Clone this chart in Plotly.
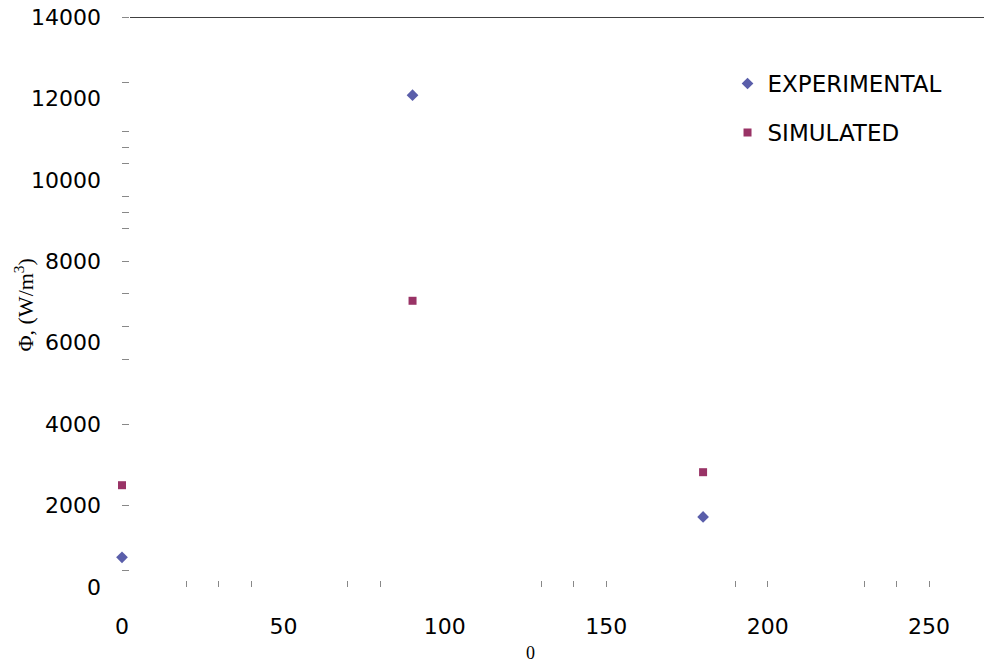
import plotly.graph_objects as go

# Data
angle_exp = [0, 90, 180]
phi_exp = [730, 12080, 1720]
angle_sim = [0, 90, 180, 270]
phi_sim = [2500, 7030, 2820, 510]

x_tickvals = [0, 50, 100, 150, 200, 250]
y_tickvals = [0, 2000, 4000, 6000, 8000, 10000, 12000, 14000]
y_ticktext = [str(v) for v in y_tickvals]
x_minor_ticks = [20, 30, 40, 70, 80, 130, 140, 150, 190, 200, 230, 240, 250]
y_minor_ticks = [400, 2000, 4000, 5600, 6400, 7200, 8000, 8800, 9200, 9600,
                 10400, 10800, 11200, 12400, 14000]

fig = go.Figure()
fig.add_trace(go.Scatter(
    x=angle_exp, y=phi_exp, mode="markers", name="EXPERIMENTAL",
    legendgroup="a",
    marker=dict(symbol="diamond", size=9, color="#5A5EAA"),
    cliponaxis=False))
fig.add_trace(go.Scatter(
    x=angle_sim, y=phi_sim, mode="markers", name="SIMULATED",
    legendgroup="b",
    marker=dict(symbol="square", size=8, color="#993366"),
    cliponaxis=False))

fig.add_shape(type="line", xref="paper", yref="y", x0=0.0092, x1=1,
              y0=14000, y1=14000, line=dict(color="black", width=1.5))

# axis titles as annotations (positioned like the reference)
fig.add_annotation(text="0", xref="paper", yref="paper", x=0.470, y=-0.1158,
                   xanchor="center", yanchor="middle", showarrow=False,
                   font=dict(family="Liberation Serif", size=18, color="black"))
fig.add_annotation(text="Φ, (W/m<sup>3</sup>)", xref="paper", yref="paper",
                   x=-0.113, y=0.495, xanchor="center", yanchor="middle",
                   textangle=-90, showarrow=False,
                   font=dict(family="Liberation Serif", size=22, color="black"))

fig.update_layout(
    width=992, height=666,
    margin=dict(l=114, r=8, t=9, b=87),
    plot_bgcolor="white", paper_bgcolor="white",
    font=dict(family="DejaVu Sans", size=22, color="black"),
    showlegend=True,
    legend=dict(x=0.696, y=0.921, xanchor="left", yanchor="top",
                font=dict(family="DejaVu Sans", size=23),
                tracegroupgap=16, traceorder="grouped",
                itemwidth=30, bgcolor="rgba(0,0,0,0)"),
    xaxis=dict(range=[0, 269.5], tickvals=x_tickvals, ticks="",
               showgrid=False, zeroline=False, showline=False,
               automargin=False, ticklabelstandoff=24,
               ticklabeloverflow="allow",
               minor=dict(tickvals=x_minor_ticks, ticks="inside",
                          ticklen=6, tickcolor="#888888", tickwidth=1)),
    yaxis=dict(range=[0, 14000], tickvals=y_tickvals, ticktext=y_ticktext,
               ticks="", showgrid=False, zeroline=False, showline=False,
               automargin=False, ticklabelstandoff=20,
               ticklabeloverflow="allow",
               minor=dict(tickvals=y_minor_ticks, ticks="inside",
                          ticklen=7, tickcolor="#888888", tickwidth=1)),
)

fig.write_html("out.html")
